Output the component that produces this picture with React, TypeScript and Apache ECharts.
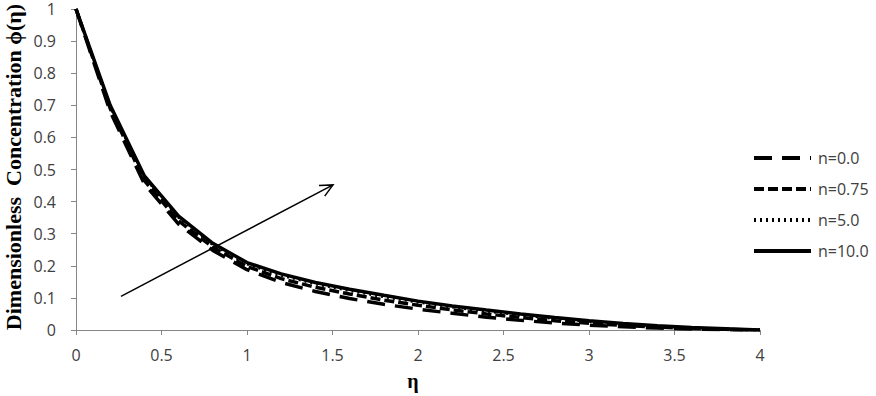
import React, { useEffect, useRef } from "react";
import * as echarts from "echarts";

const etaValues = [0, 0.2, 0.4, 0.6, 0.8, 1.0, 1.2, 1.4, 1.6, 1.8, 2.0, 2.2, 2.4, 2.6, 2.8, 3.0, 3.2, 3.4, 3.6, 3.8, 4.0];
const phiN0 = [1, 0.68, 0.455, 0.33, 0.248, 0.188, 0.148, 0.12, 0.098, 0.08, 0.065, 0.052, 0.04, 0.03, 0.022, 0.015, 0.01, 0.006, 0.003, 0.001, 0];
const phiN075 = [1, 0.69, 0.465, 0.34, 0.258, 0.198, 0.16, 0.133, 0.112, 0.093, 0.077, 0.063, 0.05, 0.039, 0.029, 0.021, 0.014, 0.009, 0.005, 0.002, 0];
const phiN5 = [1, 0.695, 0.475, 0.35, 0.265, 0.205, 0.17, 0.143, 0.122, 0.103, 0.086, 0.071, 0.058, 0.046, 0.035, 0.026, 0.018, 0.012, 0.007, 0.003, 0];
const phiN10 = [1, 0.70, 0.48, 0.355, 0.27, 0.21, 0.175, 0.148, 0.127, 0.108, 0.09, 0.075, 0.062, 0.05, 0.039, 0.029, 0.02, 0.013, 0.008, 0.004, 0];
const seriesNames = ["n=0.0", "n=0.75", "n=5.0", "n=10.0"];
const arrowPoints = [[0.263, 0.105], [1.503, 0.452]];

const pair = (ys: number[]) => etaValues.map((x, i) => [x, ys[i]]);

export default function App() {
  const ref = useRef<HTMLDivElement>(null);
  useEffect(() => {
    if (!ref.current) return;
    const chart = echarts.init(ref.current, null, { renderer: "svg" });
    const labelFont = { fontFamily: "Open Sans", fontSize: 16, color: "#404040" };
    const styles = [
      { type: [18, 10], width: 3.5 },
      { type: [10, 4], width: 3.5 },
      { type: [2, 4], width: 2.5 },
      { type: "solid", width: 3.5 },
    ];
    const datas = [phiN0, phiN075, phiN5, phiN10];
    chart.setOption({
      animation: false,
      grid: { left: 76, right: 116, top: 9, bottom: 66, containLabel: false },
      xAxis: {
        type: "value",
        min: 0,
        max: 4,
        interval: 0.5,
        axisLine: { lineStyle: { color: "#868686", width: 1 } },
        axisTick: { show: true, length: 5, lineStyle: { color: "#868686" } },
        axisLabel: { ...labelFont, margin: 17 },
        splitLine: { show: false },
      },
      yAxis: {
        type: "value",
        min: 0,
        max: 1,
        interval: 0.1,
        axisLine: { show: true, lineStyle: { color: "#868686", width: 1 } },
        axisTick: { show: true, length: 5, lineStyle: { color: "#868686" } },
        axisLabel: { ...labelFont, lineHeight: 16, margin: 20, formatter: (v: number) => String(Math.round(v * 10) / 10) },
        splitLine: { show: false },
      },
      legend: {
        orient: "vertical",
        left: 747,
        top: 145,
        itemWidth: 57,
        itemHeight: 14,
        itemGap: 15,
        itemStyle: { opacity: 0 },
        lineStyle: { width: 4 },
        textStyle: { ...labelFont, padding: [0, 0, 0, 2] },
        data: seriesNames,
      },
      graphic: [
        {
          type: "text",
          x: 13,
          y: 167,
          rotation: Math.PI / 2,
          style: {
            text: "Dimensionless  Concentration ϕ(η)",
            font: "bold 22px 'Liberation Serif'",
            fill: "#000",
            align: "center",
            verticalAlign: "middle",
          },
        },
        {
          type: "text",
          x: 413,
          y: 381,
          style: {
            text: "η",
            font: "bold 20px 'Liberation Serif'",
            fill: "#000",
            align: "center",
            verticalAlign: "middle",
          },
        },
      ],
      series: [
        ...datas.map((d, i) => ({
          name: seriesNames[i],
          type: "line",
          data: pair(d),
          symbol: "none",
          lineStyle: { color: "#000", ...styles[i] },
          itemStyle: { color: "#000" },
          z: 2 + i,
        })),
        {
          type: "custom",
          name: "arrow",
          data: [arrowPoints[0].concat(arrowPoints[1])],
          renderItem: (params: any, api: any) => {
            const p0 = api.coord([api.value(0), api.value(1)]);
            const p1 = api.coord([api.value(2), api.value(3)]);
            const ang = Math.atan2(p1[1] - p0[1], p1[0] - p0[0]);
            const L = 14, a = 0.45;
            const h1 = [p1[0] - L * Math.cos(ang - a), p1[1] - L * Math.sin(ang - a)];
            const h2 = [p1[0] - L * Math.cos(ang + a), p1[1] - L * Math.sin(ang + a)];
            return {
              type: "group",
              children: [
                { type: "line", shape: { x1: p0[0], y1: p0[1], x2: p1[0], y2: p1[1] }, style: { stroke: "#000", lineWidth: 1.5 } },
                { type: "polyline", shape: { points: [h1, p1, h2] }, style: { stroke: "#000", lineWidth: 1.5, fill: "none" } },
              ],
            };
          },
          z: 10,
        },
      ],
    });
    return () => chart.dispose();
  }, []);
  return <div ref={ref} style={{ width: 876, height: 396, position: "absolute", left: 0, top: 0 }} />;
}
